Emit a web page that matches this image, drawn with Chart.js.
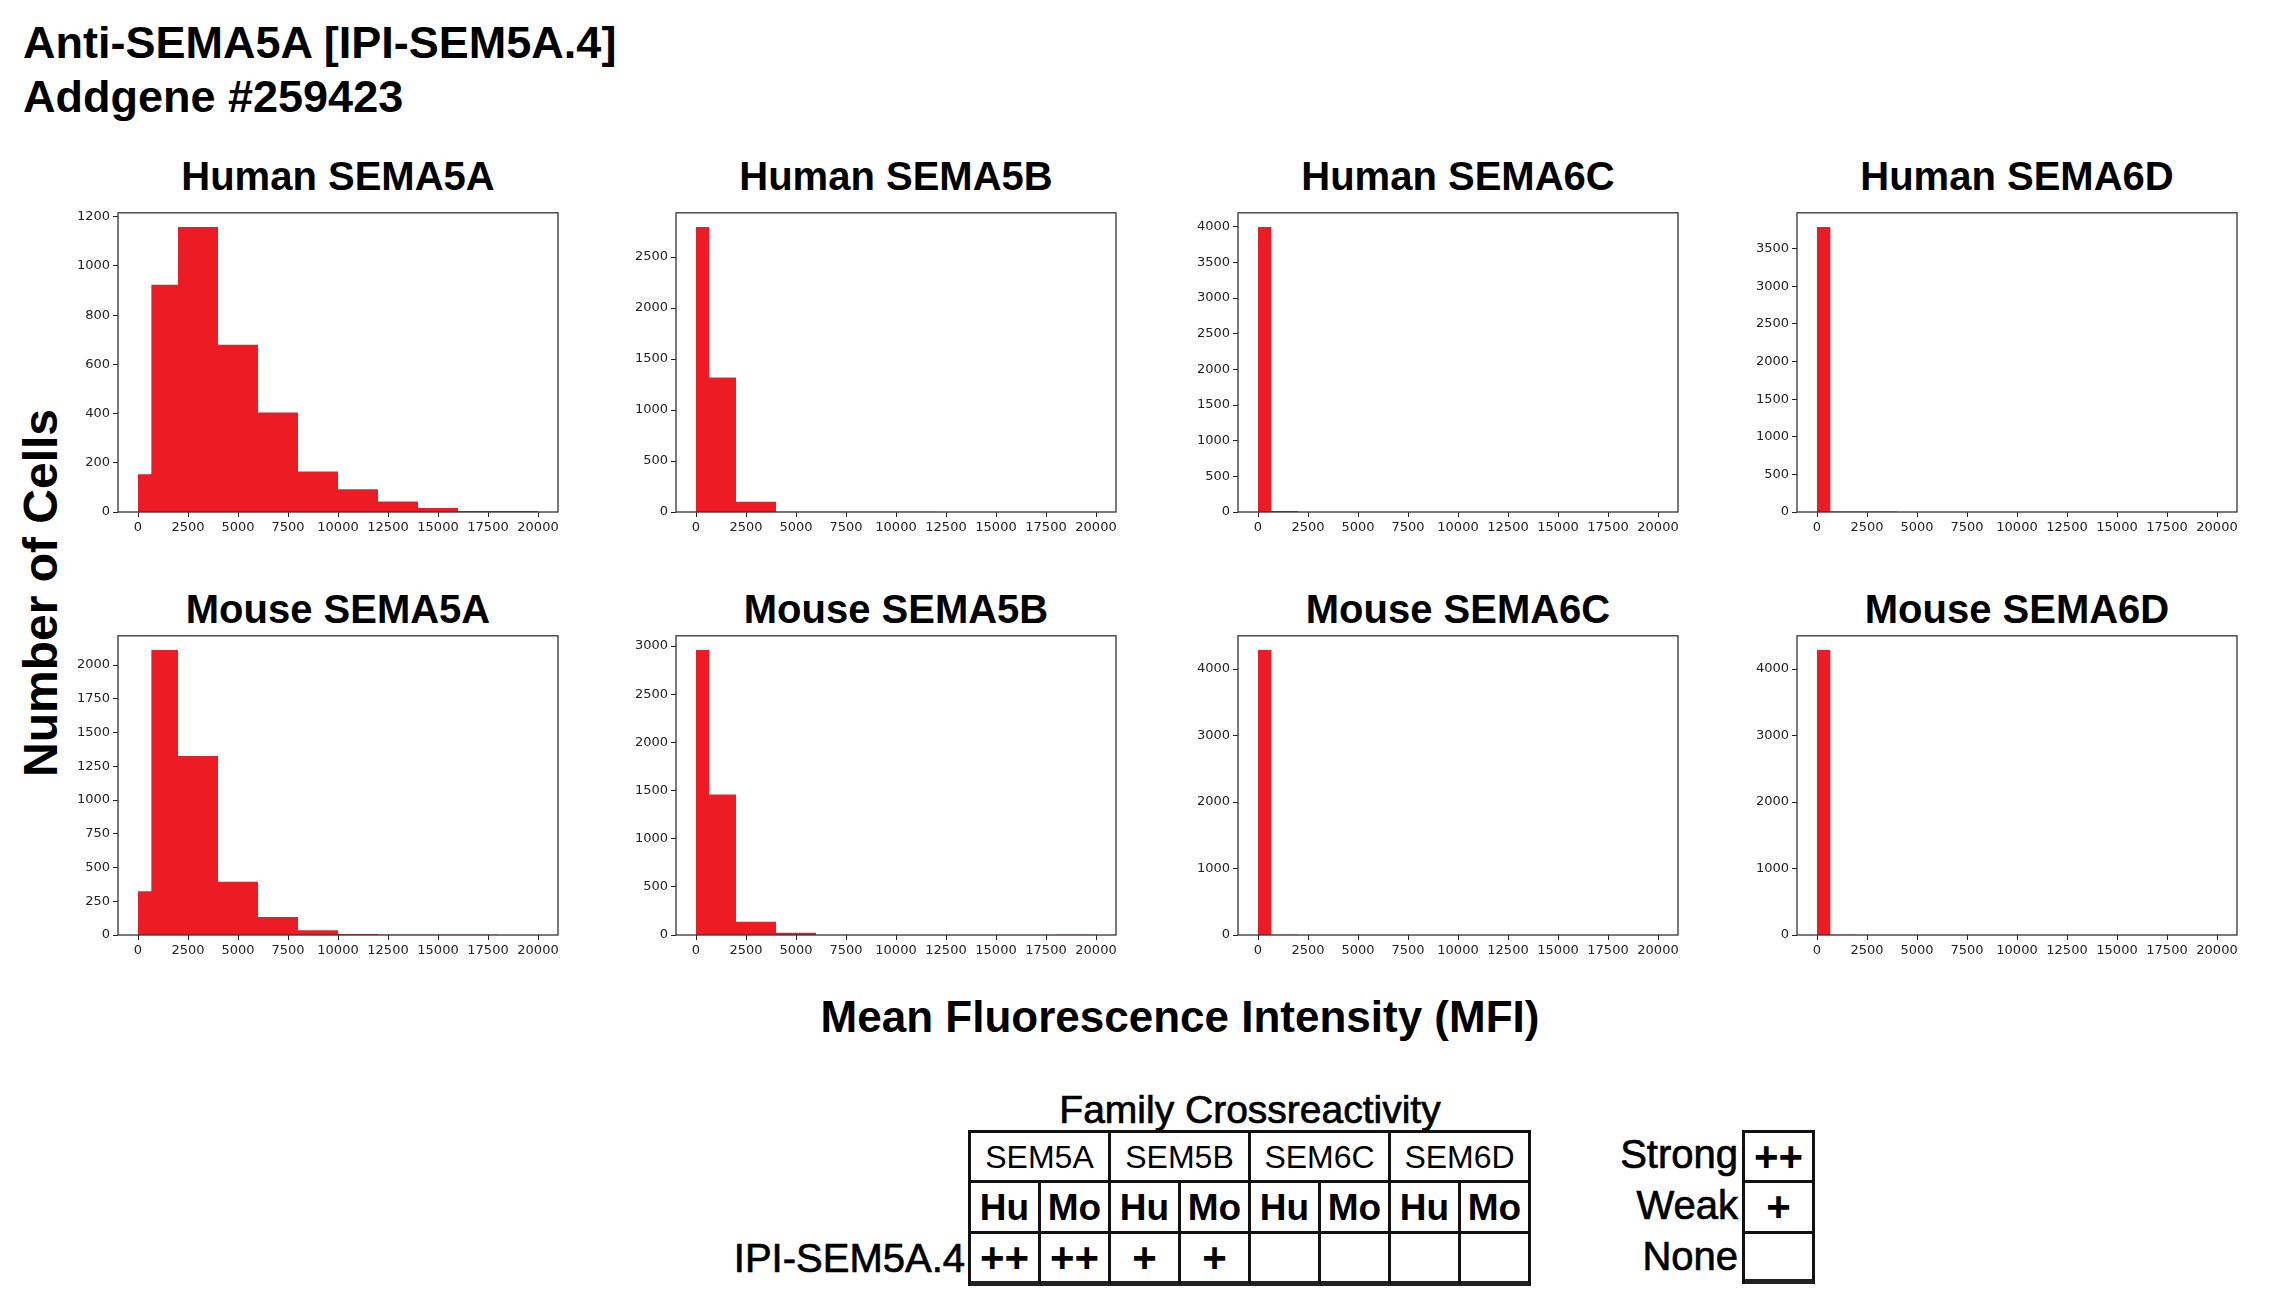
<!DOCTYPE html>
<html>
<head>
<meta charset="utf-8">
<script src="https://cdn.jsdelivr.net/npm/chart.js@4.4.1/dist/chart.umd.min.js"></script>
<style>
  html, body { margin: 0; padding: 0; background: #fff; }
  body { width: 2285px; height: 1302px; position: relative; overflow: hidden; font-family: "Liberation Sans", Arial, sans-serif; color: #000; }
  .txt { position: absolute; white-space: nowrap; line-height: 1; }
  .medium { -webkit-text-stroke: 0.7px #000; }
  .panel { position: absolute; }
  .grid { position: absolute; display: grid; border-top: 3px solid #111; border-left: 3px solid #111; }
  .cell { box-sizing: border-box; border-right: 3px solid #111; border-bottom: 3px solid #111;
          display: flex; align-items: center; justify-content: center; line-height: 1; }
</style>
</head>
<body>
<div class="txt" style="left:23px; top:20px; font-size:45px; font-weight:bold;">Anti-SEMA5A [IPI-SEM5A.4]</div>
<div class="txt" style="left:23px; top:74px; font-size:45px; font-weight:bold;">Addgene #259423</div>
<div class="txt" style="left:-159px; top:569px; width:400px; text-align:center; font-size:48px; font-weight:bold; transform:rotate(-90deg);">Number of Cells</div>
<div class="txt" style="left:780px; top:995px; width:800px; text-align:center; font-size:44px; font-weight:bold;">Mean Fluorescence Intensity (MFI)</div>
<div class="txt medium" style="left:1050px; top:1090px; width:400px; text-align:center; font-size:39px;">Family Crossreactivity</div>
<div id="root"></div>

<script>
// histogram bins (MFI) and axis ticks
const binEdges = [0, 667, 2000, 4000, 6000, 8000, 10000, 12000, 14000, 16000, 18000, 20000];
const xTicks = [0, 2500, 5000, 7500, 10000, 12500, 15000, 17500, 20000];

// cell counts per bin
const humanSema5a = [153, 924, 1158, 680, 404, 165, 92, 43, 16, 4, 4];
const humanSema5b = [2794, 1320, 101, 3, 3, 3, 3, 0, 0, 0, 0];
const humanSema6c = [3995, 15, 0, 0, 0, 0, 0, 0, 0, 0, 0];
const humanSema6d = [3788, 5, 5, 0, 0, 0, 0, 0, 0, 0, 0];
const mouseSema5a = [324, 2111, 1327, 394, 134, 35, 7, 2, 2, 2, 0];
const mouseSema5b = [2959, 1459, 138, 24, 0, 0, 0, 0, 0, 0, 2];
const mouseSema6c = [4285, 3, 0, 0, 0, 0, 0, 0, 0, 0, 0];
const mouseSema6d = [4285, 3, 0, 0, 0, 0, 0, 0, 0, 0, 0];

const yTicksHumanSema5a = [0, 200, 400, 600, 800, 1000, 1200];
const yTicksHumanSema5b = [0, 500, 1000, 1500, 2000, 2500];
const yTicksHumanSema6c = [0, 500, 1000, 1500, 2000, 2500, 3000, 3500, 4000];
const yTicksHumanSema6d = [0, 500, 1000, 1500, 2000, 2500, 3000, 3500];
const yTicksMouseSema5a = [0, 250, 500, 750, 1000, 1250, 1500, 1750, 2000];
const yTicksMouseSema5b = [0, 500, 1000, 1500, 2000, 2500, 3000];
const yTicksMouseSema6c = [0, 1000, 2000, 3000, 4000];
const yTicksMouseSema6d = [0, 1000, 2000, 3000, 4000];

const panelTitles = ['Human SEMA5A', 'Human SEMA5B', 'Human SEMA6C', 'Human SEMA6D',
                     'Mouse SEMA5A', 'Mouse SEMA5B', 'Mouse SEMA6C', 'Mouse SEMA6D'];

// crossreactivity table
const families = ['SEM5A', 'SEM5B', 'SEM6C', 'SEM6D'];
const species = ['Hu', 'Mo'];
const cloneName = 'IPI-SEM5A.4';
const reactivity = ['++', '++', '+', '+', '', '', '', ''];
const legendLabels = ['Strong', 'Weak', 'None'];
const legendSymbols = ['++', '+', ''];

const panels = [
  [humanSema5a, yTicksHumanSema5a], [humanSema5b, yTicksHumanSema5b],
  [humanSema6c, yTicksHumanSema6c], [humanSema6d, yTicksHumanSema6d],
  [mouseSema5a, yTicksMouseSema5a], [mouseSema5b, yTicksMouseSema5b],
  [mouseSema6c, yTicksMouseSema6c], [mouseSema6d, yTicksMouseSema6d]
];

const BAR_RED = '#ED1C24';
const colLeft = [118, 676, 1238, 1797];
const rowTop = [212, 635];
const titleGap = [56, 46];
const plotW = 440, plotH = 300;
const AX_W = 60, AX_H = 28, PAD_T = 10, PAD_R = 14;

const framePlugin = {
  id: 'frame',
  afterDraw(chart) {
    const a = chart.chartArea, ctx = chart.ctx;
    ctx.save();
    ctx.strokeStyle = '#333';
    ctx.lineWidth = 1.3;
    ctx.strokeRect(a.left, a.top, a.right - a.left, a.bottom - a.top);
    ctx.restore();
  }
};

const root = document.getElementById('root');

panels.forEach(function (p, i) {
  const counts = p[0], yTicks = p[1];
  const col = i % 4, row = Math.floor(i / 4);
  const L = colLeft[col], T = rowTop[row];

  const title = document.createElement('div');
  title.className = 'txt';
  title.style.cssText = 'left:' + (L - 60) + 'px; top:' + (T - titleGap[row]) + 'px; width:' + (plotW + 120) +
    'px; text-align:center; font-size:40px; font-weight:bold;';
  title.textContent = panelTitles[i];
  root.appendChild(title);

  const canvas = document.createElement('canvas');
  canvas.className = 'panel';
  canvas.width = plotW + AX_W + PAD_R;
  canvas.height = plotH + PAD_T + AX_H;
  canvas.style.left = (L - AX_W) + 'px';
  canvas.style.top = (T - PAD_T) + 'px';
  root.appendChild(canvas);

  // one point per bin edge; the last edge repeats the last count
  const pts = binEdges.map((e, k) => ({ x: e, y: counts[Math.min(k, counts.length - 1)] }));
  const tickFont = { family: 'DejaVu Sans', size: 13 };
  const tickGrid = { display: true, drawOnChartArea: false, drawTicks: true, tickLength: 5, color: '#222', lineWidth: 1 };

  new Chart(canvas.getContext('2d'), {
    type: 'line',
    data: {
      datasets: [{
        data: pts,
        stepped: 'before',
        fill: 'origin',
        backgroundColor: BAR_RED,
        borderColor: BAR_RED,
        borderWidth: 0,
        pointRadius: 0
      }]
    },
    options: {
      responsive: false,
      animation: false,
      layout: { padding: { top: PAD_T, right: PAD_R, left: 0, bottom: 0 } },
      plugins: { legend: { display: false }, tooltip: { enabled: false } },
      scales: {
        x: {
          type: 'linear', min: -1000, max: 21000,
          afterBuildTicks: s => { s.ticks = xTicks.map(v => ({ value: v })); },
          afterFit: s => { s.height = AX_H; },
          grid: tickGrid,
          border: { display: false },
          ticks: { font: tickFont, color: '#222', padding: 3, maxRotation: 0, autoSkip: false, callback: v => String(v) }
        },
        y: {
          type: 'linear', min: 0, max: Math.max(...counts) * 1.05,
          afterBuildTicks: s => { s.ticks = yTicks.map(v => ({ value: v })); },
          afterFit: s => { s.width = AX_W; },
          grid: tickGrid,
          border: { display: false },
          ticks: { font: tickFont, color: '#222', padding: 3, autoSkip: false, callback: v => String(v) }
        }
      }
    },
    plugins: [framePlugin]
  });
});

// crossreactivity table
const table = document.createElement('div');
table.className = 'grid';
table.style.cssText = 'left:968px; top:1130px; grid-template-columns:repeat(8, 70px); grid-template-rows:50px 51px 52px;';
families.forEach(function (f) {
  const c = document.createElement('div');
  c.className = 'cell';
  c.style.cssText = 'grid-column:span 2; font-size:32px;';
  c.textContent = f;
  table.appendChild(c);
});
families.forEach(function () {
  species.forEach(function (s) {
    const c = document.createElement('div');
    c.className = 'cell';
    c.style.cssText = 'font-size:37px; font-weight:bold;';
    c.textContent = s;
    table.appendChild(c);
  });
});
reactivity.forEach(function (r) {
  const c = document.createElement('div');
  c.className = 'cell';
  c.style.cssText = 'font-size:42px; font-weight:bold; border-bottom:5px solid #222;';
  c.textContent = r;
  table.appendChild(c);
});
root.appendChild(table);

const rowLabel = document.createElement('div');
rowLabel.className = 'txt medium';
rowLabel.style.cssText = 'left:560px; top:1238px; width:405px; text-align:right; font-size:40px;';
rowLabel.textContent = cloneName;
root.appendChild(rowLabel);

// strength legend
const legend = document.createElement('div');
legend.className = 'grid';
legend.style.cssText = 'left:1742px; top:1130px; grid-template-columns:70px; grid-template-rows:50px 51px 50px;';
legendSymbols.forEach(function (s, k) {
  const c = document.createElement('div');
  c.className = 'cell';
  c.style.cssText = 'font-size:42px; font-weight:bold;' + (k === legendSymbols.length - 1 ? ' border-bottom:5px solid #222;' : '');
  c.textContent = s;
  legend.appendChild(c);
});
root.appendChild(legend);

legendLabels.forEach(function (t, k) {
  const d = document.createElement('div');
  d.className = 'txt medium';
  d.style.cssText = 'left:1500px; top:' + (1134 + k * 51) + 'px; width:238px; text-align:right; font-size:40px;';
  d.textContent = t;
  root.appendChild(d);
});
</script>
</body>
</html>
